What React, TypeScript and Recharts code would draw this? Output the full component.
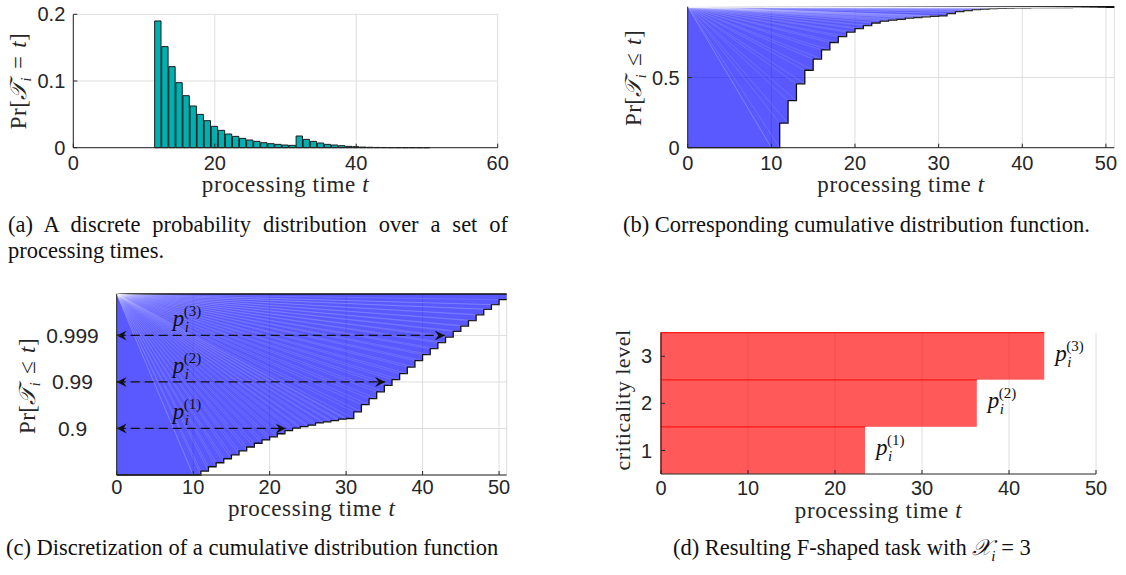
import React from "react";
import {
  Area,
  Bar,
  BarChart,
  CartesianGrid,
  ComposedChart,
  ReferenceLine,
  XAxis,
  YAxis,
} from "recharts";

const W = 1126;
const H = 575;

// (a) discrete distribution of the processing time
const pmfTimes = [
  12, 13, 14, 15, 16, 17, 18, 19, 20, 21, 22, 23, 24, 25, 26, 27, 28, 29, 30,
  31, 32, 33, 34, 35, 36, 37, 38, 39, 40, 41, 42, 43, 44, 45, 46, 47, 48, 49, 50,
];
const pmfValues = [
  0.19, 0.1515, 0.1215, 0.0975, 0.078, 0.0625, 0.05, 0.0405, 0.032, 0.026,
  0.0205, 0.017, 0.014, 0.0115, 0.0095, 0.0075, 0.006, 0.005, 0.004, 0.0035,
  0.0175, 0.0125, 0.0095, 0.007, 0.005, 0.004, 0.003, 0.002, 0.0015, 0.0009,
  0.0006, 0.0004, 0.0003, 0.0002, 0.00015, 0.0001, 0.0001, 0.00008, 0.00006,
];

// (b),(c) cumulative distribution: value reached at each step
const cdfTimes = [
  11, 12, 13, 14, 15, 16, 17, 18, 19, 20, 21, 22, 23, 24, 25, 26, 27, 28, 29,
  30, 31, 32, 33, 34, 35, 36, 37, 38, 39, 40, 41, 42, 43, 44, 45, 46, 47, 48,
  49, 50,
];
const cdfValues = [
  0.175, 0.335, 0.455, 0.552, 0.632, 0.697, 0.75, 0.792, 0.824, 0.849, 0.87,
  0.889, 0.902, 0.909, 0.915, 0.924, 0.928, 0.9325, 0.937, 0.939, 0.956,
  0.9694, 0.9772, 0.9836, 0.9882, 0.99109, 0.99338, 0.99521, 0.99653, 0.99741,
  0.99807, 0.998565, 0.998914, 0.99918, 0.99937, 0.999521, 0.999637, 0.999725,
  0.999781, 0.99983,
];

// (c),(d) criticality levels
const levels = [1, 2, 3];
const levelNames = ["(1)", "(2)", "(3)"];
const levelThresholds = [0.9, 0.99, 0.999];
const levelTickLabels = ["0.9", "0.99", "0.999"];
const arrowEnds = [22.1, 35.1, 42.9];
const levelBudgets = [23.45, 36.3, 44.05];

const INK = "#262626";
const GRID = "#dedede";
const TEAL = "#00b0b0";
const BLUE = "#0000ff";
const RED = "#ff0000";
const SANS = "'Liberation Sans', Arial, Helvetica, sans-serif";
const SERIF = "'Liberation Serif', 'Times New Roman', serif";

const B_TOP = 1.005;
const C_TOP = 3.89;

const toU = (p: number) => -Math.log10(1 - p);

const cdfAt = (t: number) => {
  if (t < cdfTimes[0]) return 0;
  const i = cdfTimes.indexOf(t);
  return i >= 0 ? cdfValues[i] : cdfValues[cdfValues.length - 1];
};

const pmfData = pmfTimes.map((t, i) => ({ t, p: pmfValues[i] }));

const stairData = Array.from({ length: 52 }, (_, t) => {
  const p = cdfAt(t);
  return { t, b: [p, B_TOP], c: [toU(p), C_TOP] };
});

const levelData = levels.map((l, i) => ({
  level: l,
  budget: levelBudgets[i],
  name: levelNames[i],
}));

const tickStyle = { fontSize: 20, fill: INK, fontFamily: SANS };
const blank = () => "";
const layer: React.CSSProperties = { position: "absolute", left: 0, top: 0 };

const XTitle = ({ x, y }: { x: number; y: number }) => (
  <text
    x={x}
    y={y}
    textAnchor="middle"
    fontFamily={SERIF}
    fontSize={23}
    letterSpacing={0.6}
    fill={INK}
  >
    processing time <tspan fontStyle="italic">t</tspan>
  </text>
);

const PrTitle = ({ x, y, rel }: { x: number; y: number; rel: string }) => (
  <text
    x={x}
    y={y}
    transform={`rotate(-90 ${x} ${y})`}
    textAnchor="middle"
    fontFamily={SERIF}
    fontSize={23}
    letterSpacing={0.4}
    fill={INK}
  >
    Pr[<tspan fontStyle="italic">𝒯</tspan>
    <tspan fontSize={14} fontStyle="italic" dy={5}>
      i
    </tspan>
    <tspan dy={-5} dx={8}>
      {rel}
    </tspan>
    <tspan dx={8} fontStyle="italic">
      t
    </tspan>
    ]
  </text>
);

const PLabel = ({ x, y, k }: { x: number; y: number; k: string }) => (
  <g fontFamily={SERIF} fill="#111">
    <text x={x} y={y} fontSize={23} fontStyle="italic">
      p
    </text>
    <text x={x + 12} y={y + 6} fontSize={15} fontStyle="italic">
      i
    </text>
    <text x={x + 11} y={y - 10} fontSize={15}>
      {k}
    </text>
  </g>
);

const fanLines = (top: number, f: (p: number) => number, id: string) => {
  const out: React.ReactNode[] = [];
  for (let t = 10; t <= 50; t++) {
    [cdfAt(t - 1), cdfAt(t)].forEach((p, j) =>
      out.push(
        <ReferenceLine
          key={`${id}-${t}-${j}`}
          segment={[
            { x: 0, y: top },
            { x: t, y: f(p) },
          ]}
          stroke="#ffffff"
          strokeOpacity={0.22}
          strokeWidth={0.6}
        />
      )
    );
  }
  return out;
};

const arrowShape = (k: string) => (props: any) => {
  const { x1, y1, x2, y2 } = props;
  return (
    <g>
      <line
        x1={x1}
        y1={y1}
        x2={x2}
        y2={y2}
        stroke="#111"
        strokeWidth={1.3}
        strokeDasharray="9 5"
      />
      <path d={`M${x1},${y1} l10,-5 l-3.5,5 l3.5,5 z`} fill="#111" />
      <path d={`M${x2},${y2} l-10,-5 l3.5,5 l-3.5,5 z`} fill="#111" />
      <PLabel x={x1 + 56} y={y1 - 9} k={k} />
    </g>
  );
};

const barShape = (props: any) => {
  const { x, y, width, height, index } = props;
  return (
    <g>
      <rect x={x} y={y} width={width} height={height} fill={RED} fillOpacity={0.65} />
      <path
        d={`M${x},${y + height} L${x},${y} L${x + width},${y}`}
        fill="none"
        stroke="#ff1a1a"
        strokeWidth={1.2}
      />
      <PLabel x={x + width + 11} y={y + height / 2 + 5} k={levelNames[index]} />
    </g>
  );
};

const A = { left: 73.3, right: 497.7, top: 14.3, bottom: 147.7 };
const B = { left: 687.7, right: 1114.3, top: 6.7, bottom: 147.7 };
const C = { left: 116.7, right: 506.7, top: 294, bottom: 475 };
const D = { left: 661, right: 1096, top: 332.7, bottom: 474 };

const caption: React.CSSProperties = {
  position: "absolute",
  fontFamily: SERIF,
  fontSize: 22.5,
  lineHeight: "22px",
  color: "#111",
  whiteSpace: "nowrap",
};

export default function App() {
  const xTicksA = [0, 20, 40, 60];
  const xTicks50 = [0, 10, 20, 30, 40, 50];
  const uTicks = levelThresholds.map(toU);
  return (
    <div style={{ position: "absolute", left: 0, top: 0, width: W, height: H, background: "#fff" }}>
      {/* (a) */}
      <div style={layer}>
        <ComposedChart
          width={W}
          height={H}
          data={pmfData}
          margin={{ top: A.top, right: W - A.right, bottom: 0, left: 0 }}
        >
          <CartesianGrid stroke={GRID} />
          <XAxis
            dataKey="t"
            type="number"
            domain={[0, 60]}
            ticks={xTicksA}
            interval={0}
            height={H - A.bottom}
            stroke={INK}
            tick={tickStyle}
            tickSize={-4}
            tickMargin={12}
            label={() => <XTitle x={(A.left + A.right) / 2} y={192} />}
          />
          <YAxis
            type="number"
            domain={[0, 0.2]}
            ticks={[0, 0.1, 0.2]}
            interval={0}
            width={A.left}
            stroke={INK}
            tick={tickStyle}
            tickSize={-4}
            tickMargin={12}
            label={() => <PrTitle x={26} y={81} rel="=" />}
          />
          <XAxis xAxisId="top" orientation="top" type="number" domain={[0, 60]} ticks={xTicksA} interval={0} height={0} stroke={INK} tickSize={-4} tickFormatter={blank} />
          <YAxis yAxisId="right" orientation="right" type="number" domain={[0, 0.2]} ticks={[0, 0.1, 0.2]} interval={0} width={0} stroke={INK} tickSize={-4} tickFormatter={blank} />
          <Bar
            dataKey="p"
            barSize={(A.right - A.left) / 60}
            fill={TEAL}
            stroke="#1a1a1a"
            strokeWidth={1}
            isAnimationActive={false}
          />
        </ComposedChart>
      </div>

      {/* (b) */}
      <div style={layer}>
        <ComposedChart
          width={W}
          height={H}
          data={stairData}
          margin={{ top: B.top, right: W - B.right, bottom: 0, left: 0 }}
        >
          <CartesianGrid stroke={GRID} />
          <XAxis
            dataKey="t"
            type="number"
            domain={[0, 51]}
            ticks={xTicks50}
            interval={0}
            height={H - B.bottom}
            stroke={INK}
            tick={tickStyle}
            tickSize={-4}
            tickMargin={12}
            label={() => <XTitle x={(B.left + B.right) / 2} y={192} />}
          />
          <YAxis
            type="number"
            domain={[0, B_TOP]}
            ticks={[0, 0.5]}
            interval={0}
            width={B.left}
            stroke={INK}
            tick={tickStyle}
            tickSize={-4}
            tickMargin={12}
            label={() => <PrTitle x={641} y={78} rel="≤" />}
          />
          <XAxis xAxisId="top" orientation="top" type="number" domain={[0, 51]} ticks={xTicks50} interval={0} height={0} stroke={INK} tickSize={-4} tickFormatter={blank} />
          <YAxis yAxisId="right" orientation="right" type="number" domain={[0, B_TOP]} ticks={[0, 0.5]} interval={0} width={0} stroke={INK} tickSize={-4} tickFormatter={blank} />
          <Area
            type="stepAfter"
            dataKey="b"
            fill={BLUE}
            fillOpacity={0.65}
            stroke="#111"
            strokeWidth={1.3}
            isAnimationActive={false}
          />
          {fanLines(B_TOP, (p) => p, "b")}
        </ComposedChart>
      </div>

      {/* (c) */}
      <div style={layer}>
        <ComposedChart
          width={W}
          height={H}
          data={stairData}
          margin={{ top: C.top, right: W - C.right, bottom: 0, left: 0 }}
        >
          <CartesianGrid stroke={GRID} />
          <XAxis
            dataKey="t"
            type="number"
            domain={[0, 51]}
            ticks={xTicks50}
            interval={0}
            height={H - C.bottom}
            stroke={INK}
            tick={tickStyle}
            tickSize={-4}
            tickMargin={9}
            label={() => <XTitle x={(C.left + C.right) / 2} y={516} />}
          />
          <YAxis
            type="number"
            domain={[0, C_TOP]}
            ticks={uTicks}
            interval={0}
            width={C.left}
            stroke={INK}
            tickSize={-4}
            tick={(p: any) => (
              <text x={72.5} y={p.y} dy="0.355em" textAnchor="middle" {...tickStyle} fontSize={21}>
                {levelTickLabels[p.index]}
              </text>
            )}
            label={() => <PrTitle x={35} y={386} rel="≤" />}
          />
          <XAxis xAxisId="top" orientation="top" type="number" domain={[0, 51]} ticks={xTicks50} interval={0} height={0} stroke={INK} tickSize={-4} tickFormatter={blank} />
          <YAxis yAxisId="right" orientation="right" type="number" domain={[0, C_TOP]} ticks={uTicks} interval={0} width={0} stroke={INK} tickSize={-4} tickFormatter={blank} />
          <Area
            type="stepAfter"
            dataKey="c"
            fill={BLUE}
            fillOpacity={0.65}
            stroke="#111"
            strokeWidth={1.3}
            isAnimationActive={false}
          />
          {fanLines(C_TOP, toU, "c")}
          {uTicks.map((u, i) => (
            <ReferenceLine
              key={`arrow-${i}`}
              segment={[
                { x: 0, y: u },
                { x: arrowEnds[i], y: u },
              ]}
              shape={arrowShape(levelNames[i])}
            />
          ))}
        </ComposedChart>
      </div>

      {/* (d) */}
      <div style={layer}>
        <BarChart
          width={W}
          height={H}
          data={levelData}
          layout="vertical"
          barCategoryGap={0}
          margin={{ top: D.top, right: W - D.right, bottom: 0, left: 0 }}
        >
          <CartesianGrid stroke={GRID} horizontal={false} />
          <XAxis
            type="number"
            domain={[0, 50]}
            ticks={xTicks50}
            interval={0}
            height={H - D.bottom}
            stroke={INK}
            tick={tickStyle}
            tickSize={-4}
            tickMargin={11}
            label={() => <XTitle x={(D.left + D.right) / 2} y={518} />}
          />
          <YAxis
            type="category"
            dataKey="level"
            reversed
            interval={0}
            width={D.left}
            stroke={INK}
            tick={tickStyle}
            tickSize={-4}
            tickMargin={13}
            label={() => (
              <text
                x={630}
                y={400}
                transform="rotate(-90 630 400)"
                textAnchor="middle"
                fontFamily={SERIF}
                fontSize={22}
                letterSpacing={0.5}
                fill={INK}
              >
                criticality level
              </text>
            )}
          />
          <XAxis xAxisId="top" orientation="top" type="number" domain={[0, 50]} ticks={xTicks50} interval={0} height={0} stroke={INK} tickSize={-4} tickFormatter={blank} />
          <YAxis yAxisId="right" orientation="right" type="number" domain={[0.5, 3.5]} ticks={levels} interval={0} width={0} stroke={INK} tickSize={-4} tickFormatter={blank} />
          <Bar dataKey="budget" shape={barShape} isAnimationActive={false} />
        </BarChart>
      </div>

      {/* captions */}
      <div style={{ ...caption, left: 8, top: 214, width: 500, whiteSpace: "normal", textAlign: "justify", textAlignLast: "justify" }}>
        (a) A discrete probability distribution over a set of
      </div>
      <div style={{ ...caption, left: 8, top: 240 }}>processing times.</div>
      <div style={{ ...caption, left: 623, top: 214 }}>
        (b) Corresponding cumulative distribution function.
      </div>
      <div style={{ ...caption, left: 6, top: 537 }}>
        (c) Discretization of a cumulative distribution function
      </div>
      <div style={{ ...caption, left: 673, top: 537 }}>
        (d) Resulting F-shaped task with <i>𝒳</i>
        <sub style={{ fontSize: 15, fontStyle: "italic" }}>i</sub> = 3
      </div>
    </div>
  );
}
